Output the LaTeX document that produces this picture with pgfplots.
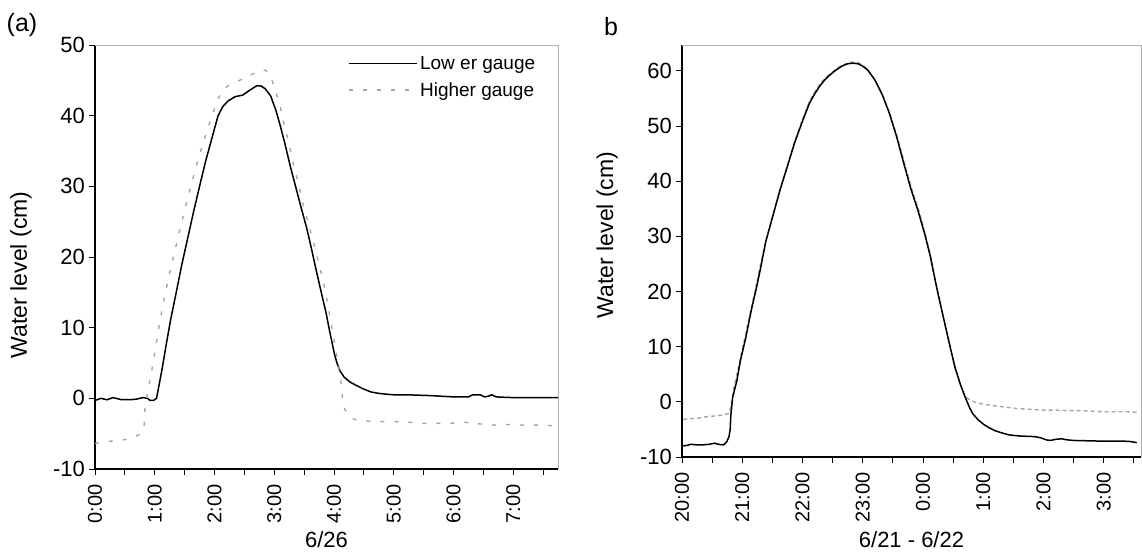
\documentclass[border=0pt]{standalone}
\usepackage{fontspec}
\setmainfont{Liberation Sans}
\usepackage{pgfplots}
\usepackage{pgfplotstable}
\pgfplotsset{compat=1.18}

\pgfplotstableread{
h cm
0.00 -0.3
0.10 0.0
0.20 -0.2
0.30 0.1
0.35 0.0
0.45 -0.2
0.60 -0.2
0.70 -0.1
0.80 0.1
0.88 0.0
0.92 -0.3
0.98 -0.3
1.03 0.0
1.12 4.0
1.20 8.0
1.27 11.3
1.36 15.0
1.45 18.8
1.55 22.6
1.65 26.4
1.75 30.0
1.85 33.5
1.95 36.6
2.06 40.0
2.14 41.3
2.23 42.1
2.35 42.7
2.47 42.9
2.59 43.6
2.70 44.2
2.78 44.2
2.85 43.8
2.94 42.8
3.03 40.7
3.10 38.6
3.18 36.0
3.27 32.8
3.36 29.9
3.45 27.0
3.54 24.2
3.62 21.3
3.69 18.6
3.76 16.0
3.82 13.8
3.87 12.0
3.92 9.8
3.96 8.2
4.01 6.2
4.05 5.0
4.10 3.9
4.17 3.0
4.27 2.3
4.38 1.8
4.50 1.3
4.62 0.9
4.75 0.7
4.86 0.6
5.00 0.5
5.22 0.5
5.58 0.4
5.80 0.3
6.00 0.2
6.25 0.2
6.32 0.5
6.45 0.5
6.52 0.2
6.58 0.3
6.64 0.5
6.72 0.2
7.00 0.1
7.40 0.1
7.75 0.1
}\lowerA

\pgfplotstableread{
h cm
0.00 -6.4
0.10 -6.2
0.20 -6.1
0.35 -6.0
0.45 -5.9
0.55 -5.8
0.62 -5.6
0.70 -5.3
0.76 -5.0
0.80 -4.6
0.82 -4.3
0.84 -0.8
0.88 0.8
0.94 3.4
1.01 7.0
1.08 10.6
1.16 14.2
1.25 17.8
1.34 21.0
1.43 24.2
1.52 27.3
1.61 30.2
1.70 33.0
1.79 35.6
1.88 38.0
1.97 40.3
2.05 42.2
2.13 43.5
2.22 44.2
2.32 44.6
2.42 45.0
2.52 45.4
2.62 45.8
2.72 46.2
2.80 46.5
2.86 46.4
2.92 45.8
2.98 44.6
3.04 43.0
3.10 41.3
3.16 39.0
3.23 36.6
3.31 33.6
3.40 30.5
3.48 27.6
3.57 24.8
3.66 22.0
3.74 19.3
3.82 16.6
3.88 14.0
3.94 11.2
3.99 8.8
4.04 6.4
4.08 4.2
4.11 2.6
4.13 1.4
4.15 -1.0
4.19 -1.7
4.24 -2.4
4.30 -2.8
4.38 -3.1
4.50 -3.2
4.70 -3.3
5.00 -3.3
5.30 -3.4
5.60 -3.6
5.80 -3.5
6.00 -3.5
6.20 -3.4
6.40 -3.6
6.60 -3.7
6.80 -3.9
6.90 -3.7
7.20 -3.8
7.50 -3.8
7.75 -3.9
}\higherA

\pgfplotstableread{
h cm
0.02 -8.0
0.08 -7.9
0.15 -7.7
0.25 -7.8
0.35 -7.8
0.45 -7.7
0.54 -7.5
0.60 -7.7
0.69 -7.8
0.74 -7.3
0.78 -6.3
0.80 -5.0
0.81 -2.5
0.84 0.8
0.91 3.8
0.97 7.5
1.06 11.7
1.15 16.6
1.24 20.9
1.30 24.0
1.39 29.0
1.51 33.8
1.63 38.5
1.75 42.7
1.87 47.0
1.99 50.6
2.11 54.0
2.20 55.8
2.29 57.3
2.38 58.5
2.47 59.4
2.56 60.2
2.66 60.9
2.75 61.3
2.84 61.4
2.92 61.3
2.98 61.0
3.08 60.2
3.20 58.4
3.32 55.8
3.44 52.4
3.56 48.2
3.68 43.3
3.80 38.6
3.92 34.6
4.04 30.0
4.12 26.5
4.19 22.7
4.25 19.6
4.35 14.8
4.44 10.5
4.53 6.3
4.62 3.2
4.71 0.6
4.78 -1.2
4.83 -2.2
4.92 -3.3
5.01 -4.1
5.10 -4.7
5.19 -5.2
5.30 -5.6
5.43 -6.0
5.61 -6.2
5.85 -6.3
5.95 -6.5
6.05 -6.9
6.12 -7.0
6.20 -6.8
6.30 -6.7
6.40 -6.9
6.50 -7.0
6.88 -7.1
7.30 -7.1
7.45 -7.2
7.55 -7.4
}\lowerB

\pgfplotstableread{
h cm
0.02 -3.2
0.10 -3.1
0.20 -3.0
0.30 -2.9
0.40 -2.7
0.50 -2.6
0.60 -2.5
0.70 -2.3
0.78 -2.1
0.82 -0.5
0.86 2.5
0.92 5.5
0.98 8.5
1.05 12.0
1.12 15.5
1.18 18.5
1.24 21.5
1.30 24.8
1.40 29.6
1.52 34.3
1.64 39.0
1.76 43.3
1.88 47.5
2.00 51.2
2.12 54.6
2.22 56.5
2.32 58.0
2.42 59.1
2.52 60.0
2.62 60.8
2.72 61.3
2.82 61.6
2.92 61.5
3.00 61.1
3.10 60.0
3.22 58.1
3.34 55.4
3.46 51.9
3.58 47.8
3.70 43.0
3.82 38.4
3.94 34.4
4.06 29.5
4.14 25.8
4.21 21.9
4.27 18.8
4.36 14.2
4.45 10.0
4.54 6.1
4.62 3.2
4.68 1.4
4.74 0.6
4.85 0.0
4.95 -0.3
5.10 -0.6
5.25 -0.8
5.40 -1.0
5.55 -1.2
5.70 -1.3
5.85 -1.4
6.00 -1.5
6.20 -1.5
6.40 -1.6
6.60 -1.6
6.80 -1.7
7.00 -1.8
7.20 -1.8
7.40 -1.8
7.55 -1.9
}\higherB

\pgfplotsset{
  panel/.style={
    scale only axis,
    axis x line*=bottom, axis y line*=left,
    axis line style={black, line width=1.1pt},
    tick align=outside,
    major tick length=6pt, minor tick length=6pt,
    every tick/.style={black, line width=0.9pt},
    xtick={0,1,2,3,4,5,6,7},
    minor xtick={0.5,1.5,2.5,3.5,4.5,5.5,6.5,7.5},
    ytick distance=10,
    /pgf/number format/assume math mode=true,
    tick label style={font=\fontsize{22}{25}\selectfont},
    yticklabel style={inner sep=4pt},
    xticklabel style={font=\fontsize{20}{23}\selectfont, rotate=90, anchor=east, inner sep=4pt, xshift=-5pt},
    label style={font=\fontsize{23}{26}\selectfont},
    ylabel={Water level (cm)},
    clip=false,
  },
  lowstyle/.style={black, line width=1.5pt},
  highstyle/.style={gray!70, line width=1.4pt, dash pattern=on 4pt off 3pt},
}

\begin{document}
\begin{tikzpicture}
\useasboundingbox (0,0) rectangle (1142pt,552pt);

\begin{axis}[panel,
  at={(95pt,83pt)}, anchor=south west,
  width=463pt, height=424pt,
  xmin=0, xmax=7.75, ymin=-10, ymax=50,
  xticklabels={0:00,1:00,2:00,3:00,4:00,5:00,6:00,7:00},
  xlabel={6/26},
  xlabel style={font=\fontsize{22}{25}\selectfont, at={(axis description cs:0.5,0)}, anchor=base, yshift=-78pt},
  ylabel style={at={(axis description cs:-0.160,0.458)}, anchor=center},
  legend style={draw=none, fill=none, at={(rel axis cs:0.962,0.984)}, anchor=north east,
    font=\fontsize{19}{22}\selectfont, row sep=8pt,
    nodes={inner sep=2pt}},
  legend cell align=left,
  legend image code/.code={\draw[#1] (0pt,0pt) -- (68pt,0pt);},
]
\addplot[lowstyle] table[x=h,y=cm] {\lowerA};
\addlegendentry{Low er gauge}
\addplot[highstyle, dash pattern=on 4pt off 10pt] table[x=h,y=cm] {\higherA};
\addlegendentry{Higher gauge}
\draw[gray!60, line width=0.8pt] (rel axis cs:0,1) -- (rel axis cs:1,1) -- (rel axis cs:1,0);
\end{axis}

\begin{axis}[panel,
  at={(682pt,95pt)}, anchor=south west,
  width=459pt, height=412pt,
  xmin=0, xmax=7.62, ymin=-10, ymax=64.7,
  xticklabels={20:00,21:00,22:00,23:00,0:00,1:00,2:00,3:00},
  xlabel={6/21 - 6/22},
  xlabel style={font=\fontsize{22}{25}\selectfont, at={(axis description cs:0.5,0)}, anchor=base, yshift=-90pt},
  ylabel style={at={(axis description cs:-0.163,0.539)}, anchor=center},
]
\addplot[highstyle] table[x=h,y=cm] {\higherB};
\addplot[lowstyle] table[x=h,y=cm] {\lowerB};
\draw[gray!60, line width=0.8pt] (rel axis cs:0,1) -- (rel axis cs:1,1) -- (rel axis cs:1,0);
\end{axis}

\node[font=\fontsize{25}{28}\selectfont] at (22pt,527pt) {(a)};
\node[font=\fontsize{25}{28}\selectfont] at (611pt,525pt) {b};
\end{tikzpicture}
\end{document}
